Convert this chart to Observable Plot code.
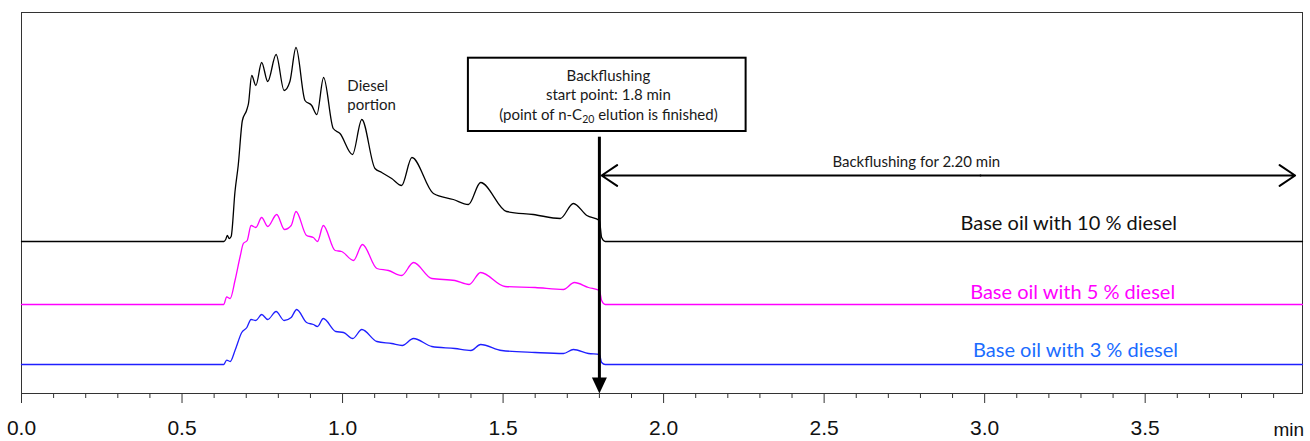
<!DOCTYPE html>
<html>
<head>
<meta charset="utf-8">
<script src="https://cdn.jsdelivr.net/npm/d3@7"></script>
<script src="https://cdn.jsdelivr.net/npm/@observablehq/plot@0.6"></script>
<style>
  html, body { margin: 0; padding: 0; background: #fff; }
</style>
</head>
<body>
<div id="chart"></div>
<script>
// ---- data (retention time in min, detector response above each trace's own baseline, arbitrary units) ----
const seriesNames = ["Base oil with 10 % diesel", "Base oil with 5 % diesel", "Base oil with 3 % diesel"];
const seriesOffsets = [152, 89, 29];   // vertical stacking of the three chromatograms (arbitrary units)

const time10 = [0, 0.630, 0.636, 0.641, 0.647, 0.653, 0.665, 0.675, 0.688, 0.701, 0.707, 0.717, 0.730, 0.748, 0.767, 0.793, 0.818, 0.836, 0.855, 0.883, 0.904, 0.920, 0.941, 0.971, 0.992, 1.031, 1.060, 1.101, 1.122, 1.153, 1.184, 1.216, 1.283, 1.345, 1.392, 1.430, 1.511, 1.594, 1.678, 1.719, 1.761, 1.800, 1.807, 1.818, 3.990];
const signal10 = [0, 0, 2, 6, 3, 5, 50, 76, 121, 131, 138, 166, 156, 179, 160, 187, 151, 160, 194, 141, 136, 127, 164, 113, 108, 87, 122, 73, 69, 63, 56, 84, 48, 42, 37, 59, 30, 27, 23, 38, 26, 21, 4, 0, 0];

const time5 = [0, 0.630, 0.639, 0.650, 0.665, 0.681, 0.691, 0.703, 0.715, 0.730, 0.748, 0.767, 0.795, 0.819, 0.840, 0.855, 0.888, 0.909, 0.922, 0.940, 0.977, 0.997, 1.034, 1.062, 1.107, 1.143, 1.184, 1.221, 1.278, 1.350, 1.394, 1.430, 1.506, 1.600, 1.688, 1.722, 1.766, 1.800, 1.807, 1.818, 3.990];
const signal5 = [0, 0, 7.6, 6, 24, 48, 61, 64, 79, 77, 87, 78, 90, 75, 79, 93, 69, 67, 63, 79, 54, 53, 44, 60, 36, 34, 29, 42, 26, 24, 20, 32, 18, 17, 15, 22, 17, 14, 4, 0, 0];

const time3 = [0, 0.630, 0.639, 0.650, 0.665, 0.686, 0.702, 0.715, 0.730, 0.748, 0.767, 0.793, 0.818, 0.840, 0.857, 0.888, 0.909, 0.922, 0.940, 0.979, 1.003, 1.032, 1.060, 1.107, 1.153, 1.186, 1.221, 1.278, 1.350, 1.400, 1.430, 1.496, 1.600, 1.688, 1.719, 1.766, 1.800, 1.807, 1.818, 3.990];
const signal3 = [0, 0, 4.4, 3, 14, 32, 37, 45, 44, 50, 45, 53, 44, 47, 55, 42, 40, 38, 46, 33, 32, 26, 35, 23, 21, 19, 26, 18, 16, 14, 20, 14, 12, 11, 15, 11, 10, 2, 0, 0];

const majorTicks = [0, 0.5, 1.0, 1.5, 2.0, 2.5, 3.0, 3.5];
const minorTicks = [0.1, 0.2, 0.3, 0.4, 0.6, 0.7, 0.8, 0.9, 1.1, 1.2, 1.3, 1.4, 1.6, 1.7, 1.8, 1.9, 2.1, 2.2, 2.3, 2.4, 2.6, 2.7, 2.8, 2.9, 3.1, 3.2, 3.3, 3.4, 3.6, 3.7, 3.8, 3.9];
const axisUnit = "min";
const backflushStart = 1.8;   // min
const backflushDuration = 2.20; // min
const boxLines = ["Backflushing", "start point: 1.8 min", "(point of n-C20 elution is finished)"];
const dieselLabel = "Diesel\nportion";
const backflushLabel = "Backflushing for 2.20 min";

// ---- build tables ----
const colors = ["#000000", "#ff00ff", "#1f1fff"];
const labelColors = ["#111111", "#ff00ff", "#1a6cff"];
const tables = [[time10, signal10], [time5, signal5], [time3, signal3]].map(([ts, vs], i) =>
  ts.map((t, j) => ({t, v: vs[j] + seriesOffsets[i], s: seriesNames[i]})));

const annoFont = "Lato, 'Open Sans', sans-serif";

const arrowTip = {
  draw(ctx) {
    ctx.moveTo(-7.5, -16);
    ctx.lineTo(7.5, -16);
    ctx.lineTo(0, 0);
    ctx.closePath();
  }
};

const svg = Plot.plot({
  width: 1310,
  height: 441,
  marginLeft: 21,
  marginRight: 8,
  marginTop: 12,
  marginBottom: 48,
  style: {fontFamily: "'Liberation Sans', Arial, sans-serif", background: "#fff", overflow: "visible"},
  x: {domain: [0, 3.99], label: null, axis: null},
  y: {domain: [0, 381], label: null, axis: null},
  marks: [
    Plot.frame({stroke: "#333", strokeWidth: 1}),
    // traces
    ...tables.map((tb, i) => Plot.line(tb, {x: "t", y: "v", stroke: colors[i], strokeWidth: 1.3, curve: "monotone-x"})),
    // series labels
    Plot.text([seriesNames[0]], {x: 3.262, y: 169.7, text: d => d, fill: labelColors[0], fontSize: 20, fontFamily: annoFont}),
    Plot.text([seriesNames[1]], {x: 3.274, y: 100.7, text: d => d, fill: labelColors[1], fontSize: 20, fontFamily: annoFont}),
    Plot.text([seriesNames[2]], {x: 3.283, y: 43, text: d => d, fill: labelColors[2], fontSize: 20, fontFamily: annoFont}),
    // diesel portion label
    Plot.text([dieselLabel], {x: 1.015, y: 299.5, text: d => d, textAnchor: "start", fill: "#1a1a1a", fontSize: 15, lineHeight: 1.27, fontFamily: annoFont}),
    // backflush start: vertical arrow
    Plot.ruleX([backflushStart], {y1: 12, y2: 256.3, stroke: "#000", strokeWidth: 3}),
    Plot.dot([backflushStart], {x: d => d, y: 0, symbol: arrowTip, fill: "#000", stroke: "none"}),
    // box
    Plot.rect([0], {x1: 1.392, x2: 2.257, y1: 262, y2: 335.3, fill: "#fff", stroke: "#000", strokeWidth: 2}),
    Plot.text([boxLines[0]], {x: 1.828, y: 317, text: d => d, fill: "#1a1a1a", fontSize: 15, fontFamily: annoFont}),
    Plot.text([boxLines[1]], {x: 1.828, y: 298, text: d => d, fill: "#1a1a1a", fontSize: 15, fontFamily: annoFont}),
    Plot.text([boxLines[2]], {x: 1.828, y: 278, text: d => d, fill: "#1a1a1a", fontSize: 15, fontFamily: annoFont}),
    // double arrow for backflush duration
    Plot.arrow([0], {x1: backflushStart + backflushDuration / 2 + 0.087, y1: 218, x2: 1.807, y2: 218, stroke: "#000", strokeWidth: 2, headLength: 14, headAngle: 68}),
    Plot.arrow([0], {x1: backflushStart + backflushDuration / 2 + 0.087, y1: 218, x2: 3.967, y2: 218, stroke: "#000", strokeWidth: 2, headLength: 14, headAngle: 68}),
    Plot.text([backflushLabel], {x: 2.787, y: 231, text: d => d, fill: "#1a1a1a", fontSize: 15, fontFamily: annoFont}),
    // axis
    Plot.axisX(majorTicks, {tickSize: 10, tickPadding: 17, tickFormat: d3.format(".1f"), fontSize: 21, fill: "#111", stroke: "#333", label: null}),
    Plot.axisX(minorTicks, {tickSize: 5, fill: "none", stroke: "#333", label: null}),
    Plot.text([axisUnit], {x: 3.947, y: -36, text: d => d, fontSize: 19, fill: "#111"})
  ]
});

// subscript for n-C20
d3.select(svg).selectAll("text").filter(function() { return this.textContent === boxLines[2]; })
  .each(function() {
    const el = d3.select(this);
    el.text(null);
    el.append("tspan").text("(point of n-C");
    el.append("tspan").attr("dy", "3px").attr("font-size", "10.5px").text("20");
    el.append("tspan").attr("dy", "-3px").text(" elution is finished)");
  });

document.getElementById("chart").appendChild(svg);
</script>
</body>
</html>
